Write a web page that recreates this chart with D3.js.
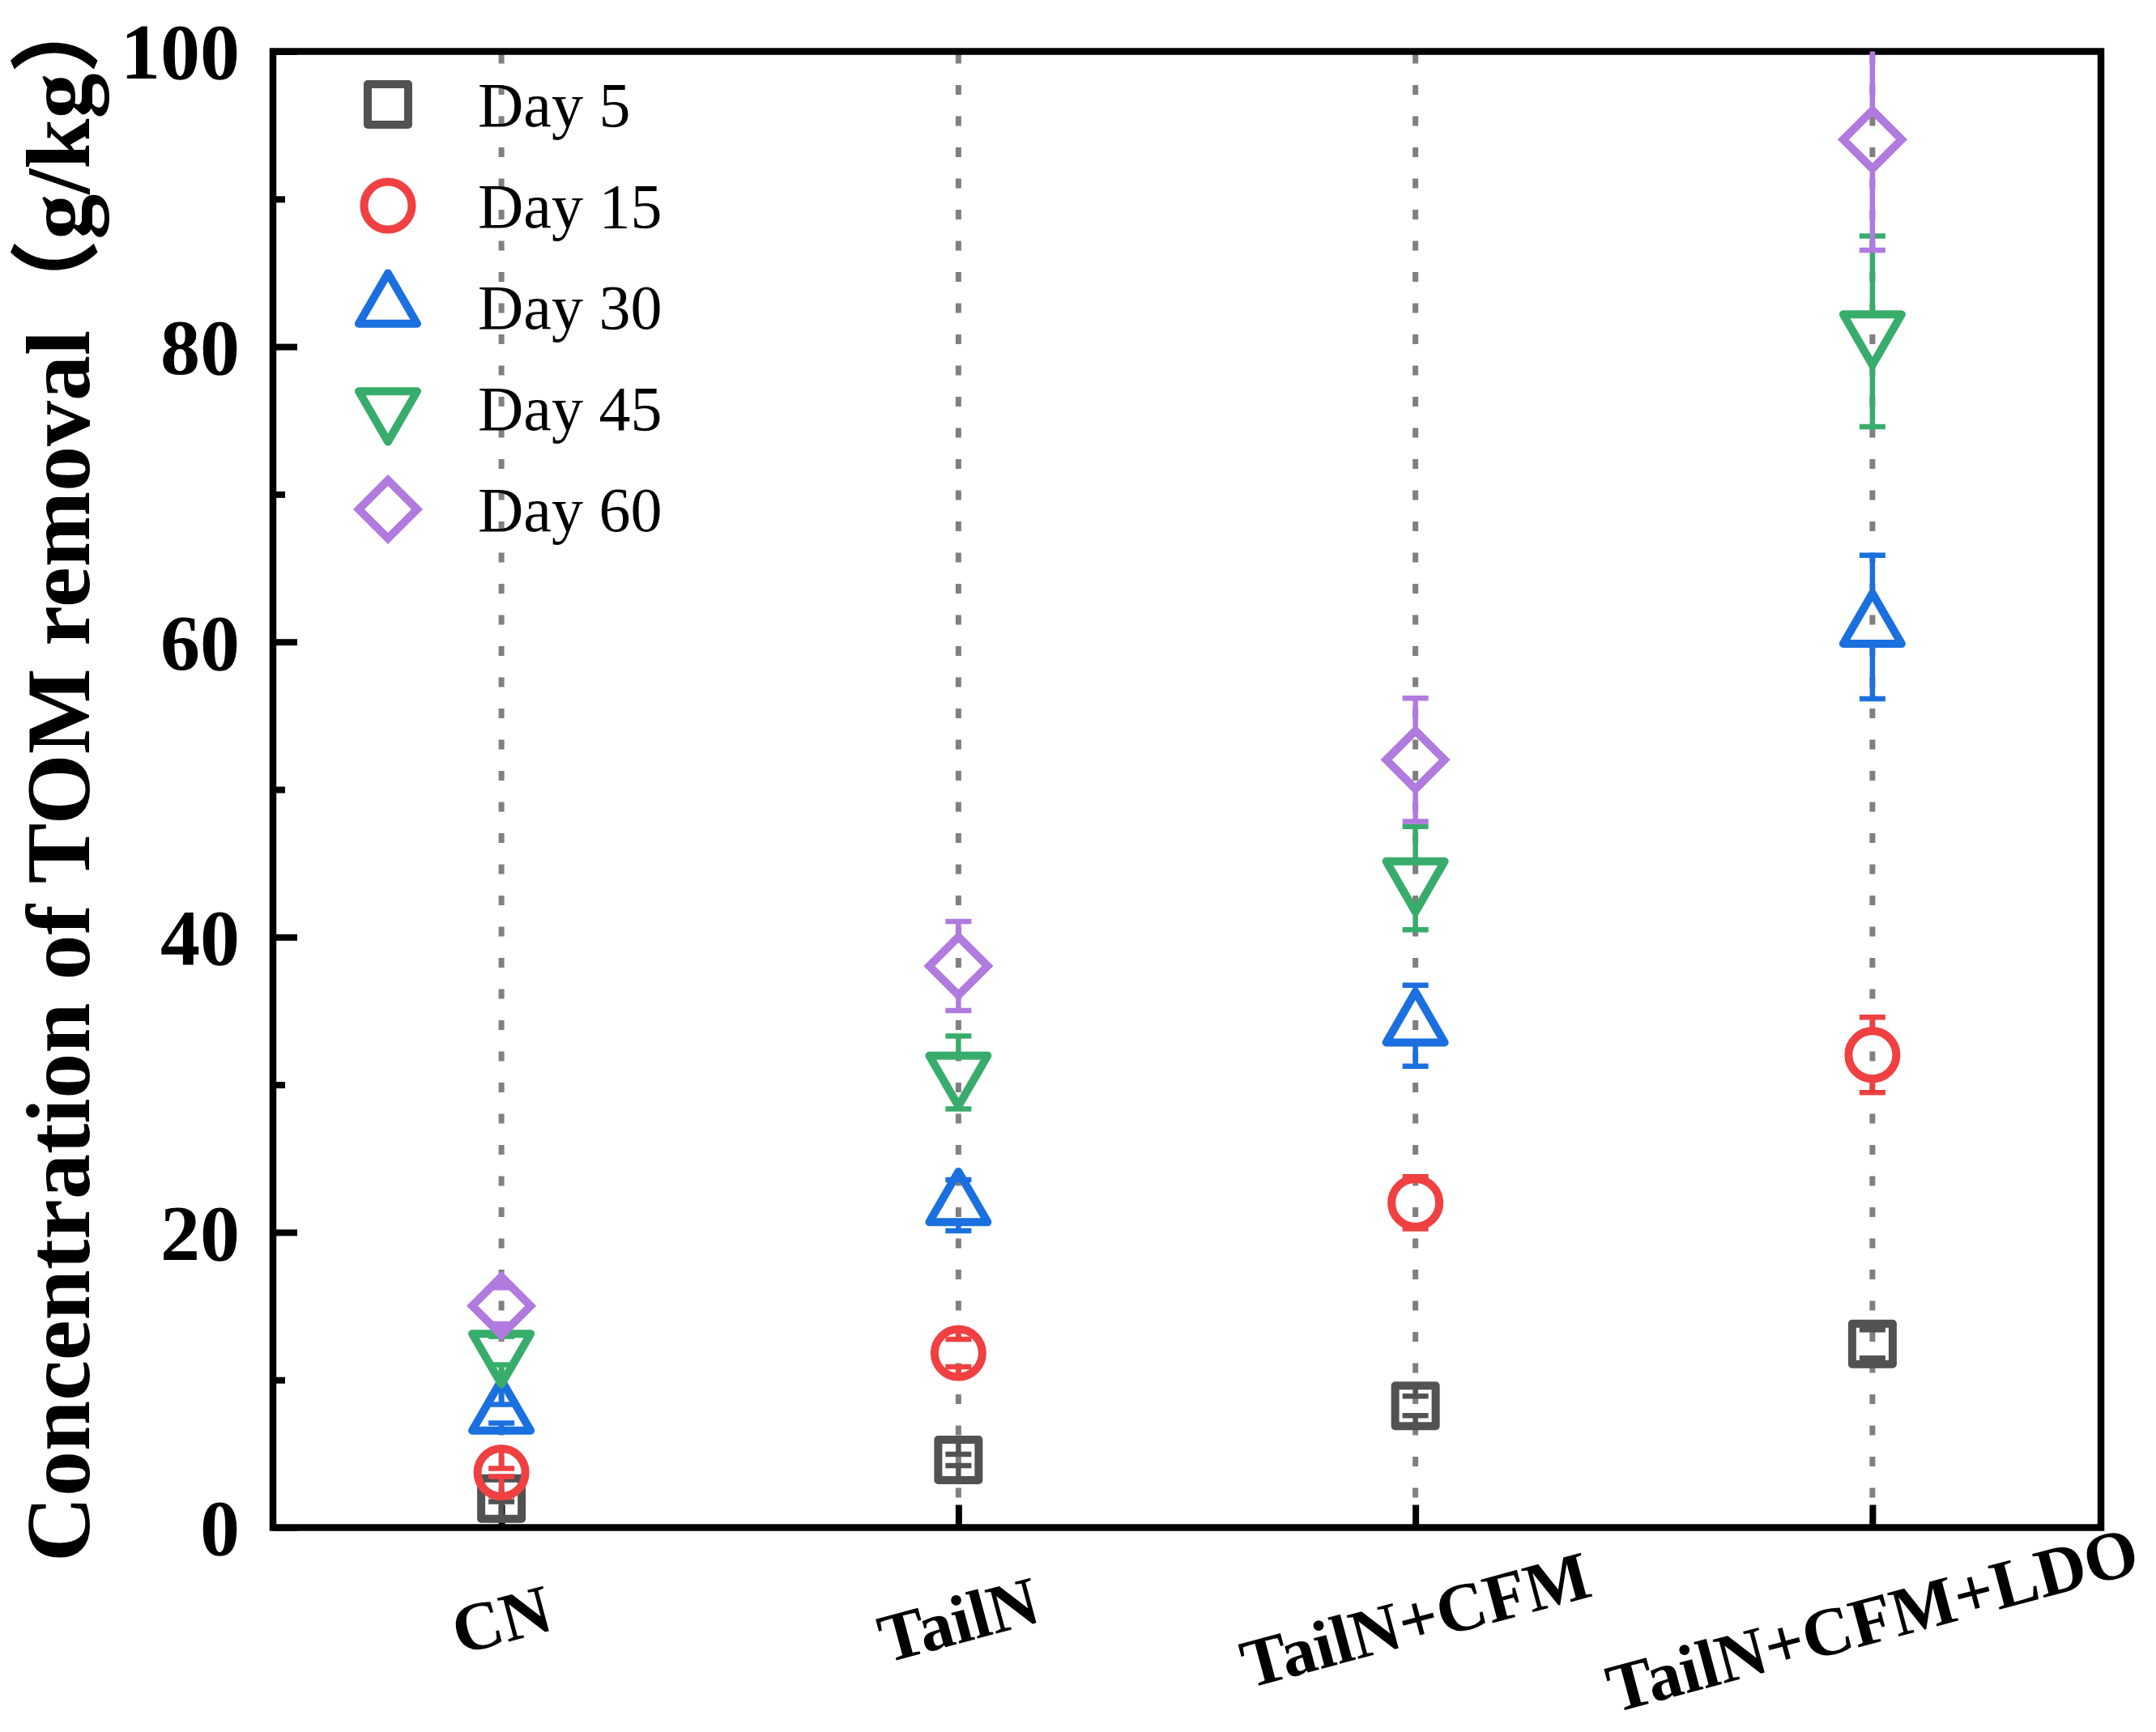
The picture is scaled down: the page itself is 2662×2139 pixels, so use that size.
<!DOCTYPE html>
<html>
<head>
<meta charset="utf-8">
<script src="https://cdn.jsdelivr.net/npm/d3@7"></script>
<style>
  body { margin: 0; background: #fff; }
  svg { display: block; }
</style>
</head>
<body>
<div class="chart"></div>
<script>
var outerW = 2662,
	outerH = 2139;
var plot = {left: 337, right: 2594, top: 63.5, bottom: 1886.5};

// Data (g/kg), one array per sampling day
var categories = ["CN", "TailN", "TailN+CFM", "TailN+CFM+LDO"];
var seriesNames = ["Day 5", "Day 15", "Day 30", "Day 45", "Day 60"];

var day5 = [1.96, 4.58, 8.24, 12.44];
var day5Err = [0.2, 0.38, 0.66, 0.96];
var day15 = [3.73, 11.82, 22.0, 32.02];
var day15Err = [0.27, 0.93, 1.76, 2.55];
var day30 = [7.71, 21.83, 34.0, 61.01];
var day30Err = [0.63, 1.73, 2.74, 4.86];
var day45 = [11.99, 30.83, 43.99, 81.04];
var day45Err = [0.96, 2.47, 3.5, 6.46];
var day60 = [15.02, 38.04, 52.01, 94.03];
var day60Err = [1.23, 3.02, 4.17, 7.5];

var yMajor = [0, 20, 40, 60, 80, 100];
var yMinor = [10, 30, 50, 70, 90];

var colors = ["#525252", "#f04041", "#1a70de", "#38ad6b", "#b07ade"];
var shapes = ["square", "circle", "up", "down", "diamond"];

var series = [
	{name: seriesNames[0], values: day5, err: day5Err},
	{name: seriesNames[1], values: day15, err: day15Err},
	{name: seriesNames[2], values: day30, err: day30Err},
	{name: seriesNames[3], values: day45, err: day45Err},
	{name: seriesNames[4], values: day60, err: day60Err}
];

var x = d3.scalePoint()
	.domain(categories)
	.range([plot.left, plot.right])
	.padding(0.5);
var y = d3.scaleLinear()
	.domain([0, 100])
	.range([plot.bottom, plot.top]);

var svg = d3.select(".chart")
	.append("svg")
	.attr("width", outerW)
	.attr("height", outerH)
	.attr("viewBox", "0 0 " + outerW + " " + outerH);

var serif = "'Liberation Serif', 'Times New Roman', 'Noto Sans CJK SC', serif";

// marker geometry: path and how far the outline reaches above / below the point
var triW = 36, triH = 62.35;
function markerPath(shape) {
	if (shape === "square") return "M-25,-25H25V25H-25Z";
	if (shape === "up") return "M0," + (-2 * triH / 3) + "L" + triW + "," + (triH / 3) + "L" + (-triW) + "," + (triH / 3) + "Z";
	if (shape === "down") return "M0," + (2 * triH / 3) + "L" + triW + "," + (-triH / 3) + "L" + (-triW) + "," + (-triH / 3) + "Z";
	if (shape === "diamond") return "M0,-36L36,0L0,36L-36,0Z";
	return d3.arc()({innerRadius: 0, outerRadius: 29.5, startAngle: 0, endAngle: 2 * Math.PI});
}
function markerExtent(shape) {
	if (shape === "square") return [25, 25];
	if (shape === "up") return [2 * triH / 3, triH / 3];
	if (shape === "down") return [triH / 3, 2 * triH / 3];
	if (shape === "diamond") return [36, 36];
	return [29.5, 29.5];
}

function drawMarker(g, shape, color) {
	if (shape === "circle") {
		g.append("circle")
			.attr("r", 29.5)
			.attr("fill", "none")
			.attr("stroke", color)
			.attr("stroke-width", 10);
	} else {
		g.append("path")
			.attr("d", markerPath(shape))
			.attr("fill", "none")
			.attr("stroke", color)
			.attr("stroke-width", 10)
			.attr("stroke-linejoin", shape === "diamond" ? "miter" : "round");
	}
}

// clip for the data area
svg.append("clipPath")
	.attr("id", "plotClip")
	.append("rect")
	.attr("x", plot.left)
	.attr("y", plot.top)
	.attr("width", plot.right - plot.left)
	.attr("height", plot.bottom - plot.top);

// dotted vertical grid at each category
svg.append("g")
	.selectAll("line")
	.data(categories)
	.join("line")
	.attr("x1", function(d) { return x(d); })
	.attr("x2", function(d) { return x(d); })
	.attr("y1", plot.top + 3)
	.attr("y2", plot.bottom)
	.attr("stroke", "#808080")
	.attr("stroke-width", 7)
	.attr("stroke-dasharray", "12 26.5");

// axes: ticks pointing inward, frame drawn separately
var yAxis = svg.append("g")
	.attr("transform", "translate(" + plot.left + ",0)")
	.call(d3.axisLeft(y).tickValues(yMajor).tickSize(-30).tickPadding(41).tickFormat(d3.format("d")));
var yMinorAxis = svg.append("g")
	.attr("transform", "translate(" + plot.left + ",0)")
	.call(d3.axisLeft(y).tickValues(yMinor).tickSize(-15).tickFormat(""));
var xAxis = svg.append("g")
	.attr("transform", "translate(0," + plot.bottom + ")")
	.call(d3.axisBottom(x).tickSize(-28).tickFormat(""));

[yAxis, yMinorAxis, xAxis].forEach(function(a) {
	a.select(".domain").remove();
	a.selectAll(".tick line")
		.attr("stroke", "#000")
		.attr("stroke-width", 8);
});

yAxis.selectAll(".tick text")
	.attr("font-family", serif)
	.attr("font-weight", "bold")
	.attr("font-size", 98)
	.attr("fill", "#000")
	.attr("dy", "0.34em");

xAxis.selectAll(".tick text").remove();
svg.append("g")
	.selectAll("text")
	.data(categories)
	.join("text")
	.attr("transform", function(d) { return "translate(" + x(d) + ",2000) rotate(-15)"; })
	.attr("text-anchor", "middle")
	.attr("dy", "0.34em")
	.attr("font-family", serif)
	.attr("font-weight", "bold")
	.attr("font-size", 85)
	.text(function(d) { return d; });

// frame
svg.append("rect")
	.attr("x", plot.left)
	.attr("y", plot.top)
	.attr("width", plot.right - plot.left)
	.attr("height", plot.bottom - plot.top)
	.attr("fill", "none")
	.attr("stroke", "#000")
	.attr("stroke-width", 8.5);

// y title
svg.append("text")
	.attr("transform", "translate(110,1929) rotate(-90)")
	.attr("text-anchor", "start")
	.attr("font-family", serif)
	.attr("font-weight", "bold")
	.attr("font-size", 112)
	.text("Concentration of TOM removal（g/kg）");

// data: error bars (skipped inside the symbol, as Origin draws them) + markers
var dataLayer = svg.append("g").attr("clip-path", "url(#plotClip)");
series.forEach(function(s, si) {
	var shape = shapes[si], color = colors[si];
	var ext = markerExtent(shape);
	var g = dataLayer.append("g");
	s.values.forEach(function(v, i) {
		var cx = x(categories[i]), cy = y(v);
		var top = y(v + s.err[i]), bot = y(v - s.err[i]);
		var eb = g.append("g")
			.attr("stroke", color)
			.attr("stroke-width", 6.5);
		eb.append("line")
			.attr("x1", cx).attr("x2", cx)
			.attr("y1", cy - ext[0]).attr("y2", top);
		eb.append("line")
			.attr("x1", cx).attr("x2", cx)
			.attr("y1", cy + ext[1]).attr("y2", bot);
		eb.append("line")
			.attr("x1", cx - 16).attr("x2", cx + 16)
			.attr("y1", top).attr("y2", top);
		eb.append("line")
			.attr("x1", cx - 16).attr("x2", cx + 16)
			.attr("y1", bot).attr("y2", bot);
		drawMarker(g.append("g").attr("transform", "translate(" + cx + "," + cy + ")"), shape, color);
	});
});

// legend
var legend = svg.append("g");
series.forEach(function(s, si) {
	var ly = 129 + si * 125;
	drawMarker(legend.append("g").attr("transform", "translate(479," + ly + ")"), shapes[si], colors[si]);
	legend.append("text")
		.attr("x", 590)
		.attr("y", ly)
		.attr("dy", "0.34em")
		.attr("font-family", serif)
		.attr("font-size", 78)
		.text(s.name);
});
</script>
</body>
</html>
